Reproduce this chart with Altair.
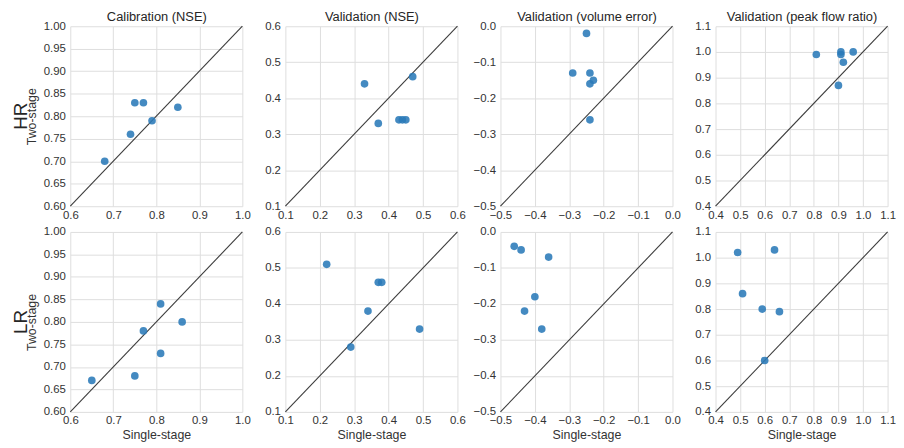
import altair as alt
import pandas as pd

col_titles = ["Calibration (NSE)", "Validation (NSE)",
              "Validation (volume error)", "Validation (peak flow ratio)"]
row_labels = ["HR", "LR"]

domains = [[0.6, 1.0], [0.1, 0.6], [-0.5, 0.0], [0.4, 1.1]]
x_ticks = [
    [0.6, 0.7, 0.8, 0.9, 1.0],
    [0.1, 0.2, 0.3, 0.4, 0.5, 0.6],
    [-0.5, -0.4, -0.3, -0.2, -0.1, 0.0],
    [0.4, 0.5, 0.6, 0.7, 0.8, 0.9, 1.0, 1.1],
]
y_ticks = [
    [0.6, 0.65, 0.7, 0.75, 0.8, 0.85, 0.9, 0.95, 1.0],
    [0.1, 0.2, 0.3, 0.4, 0.5, 0.6],
    [-0.5, -0.4, -0.3, -0.2, -0.1, 0.0],
    [0.4, 0.5, 0.6, 0.7, 0.8, 0.9, 1.0, 1.1],
]
y_formats = [".2f", ".1f", ".1f", ".1f"]

# HR
hr_cal_single = [0.68, 0.74, 0.75, 0.77, 0.79, 0.85]
hr_cal_two = [0.70, 0.76, 0.83, 0.83, 0.79, 0.82]
hr_nse_single = [0.33, 0.37, 0.43, 0.44, 0.45, 0.47]
hr_nse_two = [0.44, 0.33, 0.34, 0.34, 0.34, 0.46]
hr_vol_single = [-0.25, -0.29, -0.24, -0.23, -0.24, -0.24]
hr_vol_two = [-0.02, -0.13, -0.13, -0.15, -0.16, -0.26]
hr_peak_single = [0.81, 0.91, 0.91, 0.92, 0.96, 0.90]
hr_peak_two = [0.99, 1.00, 0.99, 0.96, 1.00, 0.87]

# LR
lr_cal_single = [0.65, 0.75, 0.77, 0.81, 0.81, 0.86]
lr_cal_two = [0.67, 0.68, 0.78, 0.84, 0.73, 0.80]
lr_nse_single = [0.22, 0.29, 0.34, 0.37, 0.38, 0.49]
lr_nse_two = [0.51, 0.28, 0.38, 0.46, 0.46, 0.33]
lr_vol_single = [-0.46, -0.44, -0.36, -0.40, -0.43, -0.38]
lr_vol_two = [-0.04, -0.05, -0.07, -0.18, -0.22, -0.27]
lr_peak_single = [0.49, 0.64, 0.51, 0.59, 0.66, 0.60]
lr_peak_two = [1.02, 1.03, 0.86, 0.80, 0.79, 0.60]

series = {
    "HR": [(hr_cal_single, hr_cal_two), (hr_nse_single, hr_nse_two),
           (hr_vol_single, hr_vol_two), (hr_peak_single, hr_peak_two)],
    "LR": [(lr_cal_single, lr_cal_two), (lr_nse_single, lr_nse_two),
           (lr_vol_single, lr_vol_two), (lr_peak_single, lr_peak_two)],
}

GRID = "#dedede"
TXT = "#333333"
W, H = 174, 182


def panel(r, c):
    xs, ys = series[row_labels[r]][c]
    pts = pd.DataFrame({"single": xs, "two": ys})
    lo, hi = domains[c]
    diag = pd.DataFrame({"single": [lo, hi], "two": [lo, hi]})

    xscale = alt.Scale(domain=domains[c], nice=False, zero=False)
    yscale = alt.Scale(domain=domains[c], nice=False, zero=False)

    yaxis = alt.Axis(values=y_ticks[c], format=y_formats[c], grid=True,
                     gridColor=GRID, domain=False, ticks=False,
                     labelFlush=False,
                     labelFontSize=11.5, labelColor=TXT, labelPadding=5,
                     title="Two-stage" if c == 0 else None,
                     titleFontSize=12.5, titleFontWeight="normal",
                     titleColor=TXT, titlePadding=5)
    xaxis = alt.Axis(values=x_ticks[c], format=".1f", grid=True,
                     gridColor=GRID, domain=False, ticks=False,
                     labelFlush=False, labelOverlap=False,
                     labelFontSize=11.5, labelColor=TXT, labelPadding=3,
                     title="Single-stage" if r == 1 else None,
                     titleFontSize=12.5, titleFontWeight="normal",
                     titleColor=TXT, titlePadding=2)
    if r == 0:
        topaxis = alt.Axis(orient="top", labels=False, ticks=False,
                           domain=False, grid=False, title=col_titles[c],
                           titleFontSize=13, titleFontWeight="normal",
                           titleColor="#262626", titlePadding=3)
    else:
        topaxis = None

    line = alt.Chart(diag).mark_line(color="#3c3c3c", strokeWidth=1.1).encode(
        x=alt.X("single:Q", scale=xscale, axis=topaxis),
        y=alt.Y("two:Q", scale=yscale, axis=yaxis),
    )
    dots = alt.Chart(pts).mark_circle(size=60, color="#2a7ab8", opacity=0.88).encode(
        x=alt.X("single:Q", scale=xscale, axis=xaxis),
        y=alt.Y("two:Q", scale=yscale, axis=yaxis),
    )
    layers = [line, dots]
    if c == 0:
        lab = alt.Chart(pd.DataFrame({"label": [row_labels[r]]})).mark_text(
            angle=270, fontSize=19, color="#262626", align="center",
            baseline="middle"
        ).encode(text="label:N", x=alt.value(-50), y=alt.value(H / 2))
        layers.append(lab)
    ch = alt.layer(*layers).resolve_axis(x="independent")
    return ch.properties(width=W, height=H)


charts = [panel(r, c) for r in range(2) for c in range(4)]

chart = alt.concat(*charts, columns=4, spacing={"row": 26, "column": 43.5},
                   bounds="flush").configure(
    font="Liberation Sans", padding={"left": 4, "top": 0, "right": 0, "bottom": 0}
).configure_view(stroke=None)

chart.save("out.html", embed_options={"renderer": "svg", "actions": False})
